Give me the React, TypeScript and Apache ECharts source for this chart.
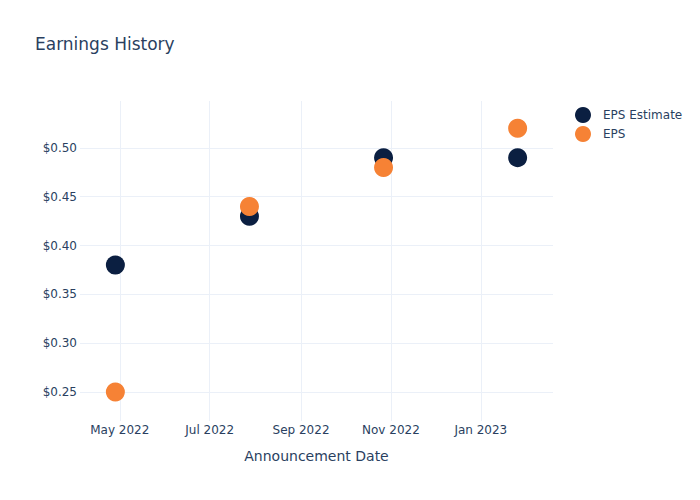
import React, { useEffect, useRef } from "react";
import * as echarts from "echarts";

const dates = ["2022-04-28", "2022-07-28", "2022-10-27", "2023-01-26"];
const epsEstimate = [0.38, 0.43, 0.49, 0.49];
const eps = [0.25, 0.44, 0.48, 0.52];
const seriesNames = ["EPS Estimate", "EPS"];
const xRange = ["2022-04-04", "2023-02-19"];
const yRange = [0.2203, 0.548];

const FONT = "'DejaVu Sans', Verdana, sans-serif";
const TEXT = "#2a3f5f";
const GRID = "#ebf0f8";

export default function App() {
  const ref = useRef<HTMLDivElement>(null);
  useEffect(() => {
    if (!ref.current) return;
    const chart = echarts.init(ref.current, undefined, { renderer: "svg" });
    chart.setOption({
      animation: false,
      backgroundColor: "#ffffff",
      textStyle: { fontFamily: FONT, color: TEXT },
      title: {
        text: "Earnings History",
        left: 35,
        top: 35,
        padding: 0,
        textStyle: { fontFamily: FONT, color: TEXT, fontSize: 17, fontWeight: "normal" },
      },
      legend: {
        orient: "vertical",
        left: 575,
        top: 107,
        padding: 0,
        itemWidth: 16,
        itemHeight: 16,
        itemGap: 3,
        icon: "circle",
        textStyle: { fontFamily: FONT, color: TEXT, fontSize: 12, padding: [0, 0, 0, 7] },
        data: seriesNames,
      },
      grid: { left: 80, right: 147, top: 101, bottom: 79, containLabel: false },
      xAxis: {
        type: "time",
        min: xRange[0],
        max: xRange[1],
        splitNumber: 5,
        name: "Announcement Date",
        nameLocation: "middle",
        nameGap: 28,
        nameTextStyle: { fontFamily: FONT, color: TEXT, fontSize: 14 },
        axisLine: { show: false },
        axisTick: { show: false },
        axisLabel: {
          formatter: "{MMM} {yyyy}",
          fontFamily: FONT,
          color: TEXT,
          fontSize: 12,
          margin: 3,
          hideOverlap: false,
        },
        splitLine: {
          show: true,
          showMinLine: false,
          showMaxLine: false,
          lineStyle: { color: GRID, width: 1 },
        },
      },
      yAxis: {
        type: "value",
        min: yRange[0],
        max: yRange[1],
        splitNumber: 6,
        axisLine: { show: false },
        axisTick: { show: false },
        axisLabel: {
          formatter: (v: number) => "$" + v.toFixed(2),
          fontFamily: FONT,
          color: TEXT,
          fontSize: 12,
          margin: 3,
          showMinLabel: false,
          showMaxLabel: false,
        },
        splitLine: {
          show: true,
          showMinLine: false,
          showMaxLine: false,
          lineStyle: { color: GRID, width: 1 },
        },
      },
      series: [
        {
          name: seriesNames[0],
          type: "scatter",
          symbol: "circle",
          symbolSize: 19,
          itemStyle: { color: "#0b1f41", opacity: 1 },
          data: dates.map((d, i) => [d, epsEstimate[i]]),
          z: 2,
        },
        {
          name: seriesNames[1],
          type: "scatter",
          symbol: "circle",
          symbolSize: 19,
          itemStyle: { color: "#f68235", opacity: 1 },
          data: dates.map((d, i) => [d, eps[i]]),
          z: 3,
        },
      ],
    });
    return () => chart.dispose();
  }, []);
  return <div ref={ref} style={{ width: 700, height: 500, margin: -8 }} />;
}
